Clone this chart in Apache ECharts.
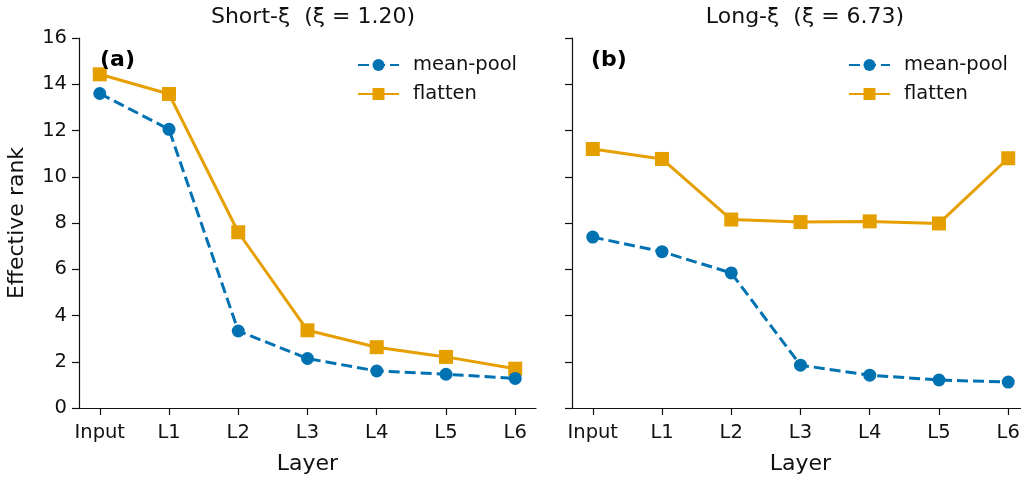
<!DOCTYPE html>
<html>
<head>
<meta charset="utf-8">
<script src="https://cdn.jsdelivr.net/npm/echarts@6/dist/echarts.min.js"></script>
<style>
  html, body { margin: 0; padding: 0; background: #fff; }
  #chart { width: 1021px; height: 477px; }
</style>
</head>
<body>
<div id="chart"></div>
<script>
const layers = ["Input", "L1", "L2", "L3", "L4", "L5", "L6"];
const yTicks = [0, 2, 4, 6, 8, 10, 12, 14, 16];

// (a) Short-xi
const shortMeanPool = [13.6, 12.05, 3.33, 2.14, 1.6, 1.46, 1.28];
const shortFlatten = [14.43, 13.58, 7.6, 3.36, 2.63, 2.21, 1.7];
// (b) Long-xi
const longMeanPool = [7.39, 6.76, 5.84, 1.85, 1.42, 1.21, 1.12];
const longFlatten = [11.2, 10.77, 8.15, 8.04, 8.07, 7.98, 10.8];

const BLUE = "#0072B2";
const ORANGE = "#E69F00";
const FONT = "DejaVu Sans";
const INK = "#111";

const toPoints = arr => arr.map((v, i) => [i, v]);

function xAxisFor(gridIndex) {
  return {
    type: "value",
    gridIndex: gridIndex,
    min: -0.3,
    max: 6.3,
    name: "Layer",
    nameLocation: "middle",
    nameGap: 45,
    nameTextStyle: { fontFamily: FONT, fontSize: 22, color: INK },
    splitLine: { show: false },
    axisLine: { onZero: false, lineStyle: { color: INK, width: 1.2 } },
    axisTick: {
      customValues: layers.map((_, i) => i),
      length: 7,
      lineStyle: { color: INK, width: 1.2 }
    },
    axisLabel: {
      customValues: layers.map((_, i) => i),
      formatter: v => layers[Math.round(v)],
      margin: 15,
      fontFamily: FONT,
      fontSize: 19.5,
      color: INK
    }
  };
}

function yAxisFor(gridIndex, showLabels) {
  return {
    type: "value",
    gridIndex: gridIndex,
    min: yTicks[0],
    max: yTicks[yTicks.length - 1],
    interval: 2,
    name: showLabels ? "Effective rank" : "",
    nameLocation: "middle",
    nameGap: 51,
    nameRotate: 90,
    nameTextStyle: { fontFamily: FONT, fontSize: 22, color: INK },
    splitLine: { show: false },
    axisLine: { show: true, onZero: false, lineStyle: { color: INK, width: 1.2 } },
    axisTick: { show: true, length: 7, lineStyle: { color: INK, width: 1.2 } },
    axisLabel: {
      show: showLabels,
      margin: 12,
      fontFamily: FONT,
      fontSize: 19.5,
      color: INK
    }
  };
}

function meanPoolSeries(idx, data) {
  return {
    name: "mean-pool",
    type: "line",
    xAxisIndex: idx,
    yAxisIndex: idx,
    data: toPoints(data),
    symbol: "circle",
    symbolSize: 13,
    itemStyle: { color: BLUE },
    lineStyle: { color: BLUE, width: 3, type: [11, 5] },
    z: 3
  };
}

function flattenSeries(idx, data) {
  return {
    name: "flatten",
    type: "line",
    xAxisIndex: idx,
    yAxisIndex: idx,
    data: toPoints(data),
    symbol: "rect",
    symbolSize: 14,
    itemStyle: { color: ORANGE },
    lineStyle: { color: ORANGE, width: 3 },
    z: 2
  };
}

function legendAt(left) {
  return {
    left: left,
    top: 50,
    orient: "vertical",
    itemWidth: 41,
    itemHeight: 15,
    itemGap: 9,
    textStyle: { fontFamily: FONT, fontSize: 19.5, color: INK, padding: [0, 0, 0, 9] },
    data: ["mean-pool", "flatten"]
  };
}

const chart = echarts.init(document.getElementById("chart"), null, { renderer: "canvas" });

chart.setOption({
  backgroundColor: "#fff",
  animation: false,
  title: [
    {
      text: "Short-ξ  (ξ = 1.20)",
      left: 308, top: 1, textAlign: "center",
      textStyle: { fontFamily: FONT, fontSize: 22, fontWeight: "normal", color: INK }
    },
    {
      text: "Long-ξ  (ξ = 6.73)",
      left: 800, top: 1, textAlign: "center",
      textStyle: { fontFamily: FONT, fontSize: 22, fontWeight: "normal", color: INK }
    },
    {
      text: "(a)", left: 95, top: 44,
      textStyle: { fontFamily: FONT, fontSize: 22, fontWeight: "bold", color: "#000" }
    },
    {
      text: "(b)", left: 586, top: 44,
      textStyle: { fontFamily: FONT, fontSize: 22, fontWeight: "bold", color: "#000" }
    }
  ],
  legend: [
    Object.assign(legendAt(352), { seriesIndex: [0, 1] }),
    Object.assign(legendAt(843), { seriesIndex: [2, 3] })
  ],
  grid: [
    { left: 79, top: 38, width: 457, height: 370, outerBoundsMode: "none" },
    { left: 572, top: 38, width: 457, height: 370, outerBoundsMode: "none" }
  ],
  xAxis: [xAxisFor(0), xAxisFor(1)],
  yAxis: [yAxisFor(0, true), yAxisFor(1, false)],
  series: [
    meanPoolSeries(0, shortMeanPool),
    flattenSeries(0, shortFlatten),
    meanPoolSeries(1, longMeanPool),
    flattenSeries(1, longFlatten)
  ]
});
</script>
</body>
</html>
